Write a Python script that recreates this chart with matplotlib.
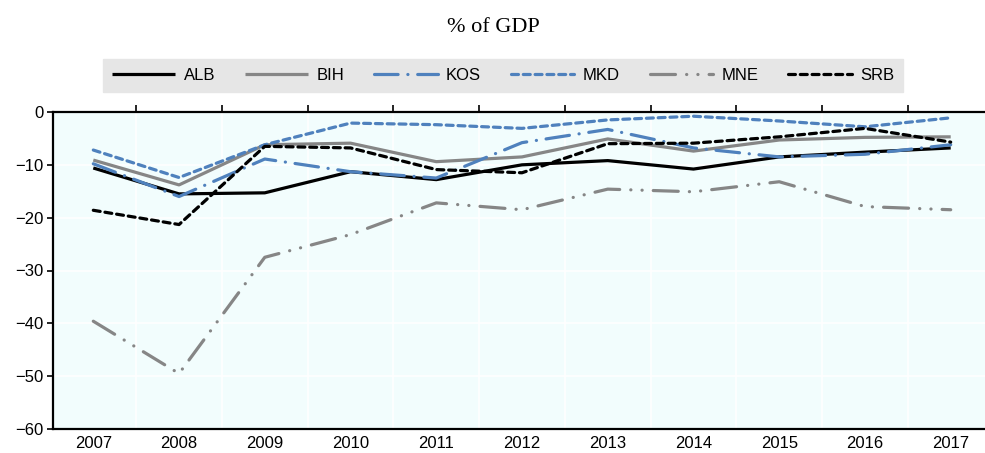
import matplotlib.pyplot as plt
import numpy as np

plt.rcParams['font.family'] = ['Liberation Sans', 'DejaVu Sans']
plt.rcParams['lines.scale_dashes'] = False

years = list(range(2007, 2018))
alb = [-10.6, -15.5, -15.3, -11.3, -12.8, -10.0, -9.2, -10.8, -8.5, -7.6, -6.8]
bih = [-9.1, -13.8, -6.2, -5.9, -9.4, -8.5, -5.1, -7.4, -5.3, -4.8, -4.7]
kos = [-9.8, -16.0, -8.9, -11.3, -12.5, -5.8, -3.3, -6.8, -8.5, -8.0, -6.2]
mkd = [-7.2, -12.4, -6.2, -2.1, -2.4, -3.1, -1.5, -0.8, -1.7, -2.8, -1.1]
mne = [-39.6, -49.5, -27.5, -23.2, -17.2, -18.5, -14.6, -15.1, -13.2, -17.9, -18.5]
srb = [-18.6, -21.3, -6.5, -6.8, -10.9, -11.5, -6.0, -5.9, -4.7, -3.1, -5.7]

blue = '#4F81BD'
grey = '#868686'

fig = plt.figure(figsize=(9.85, 4.53), dpi=100)
ax = fig.add_axes([53 / 985, 24 / 453, 932 / 985, 317 / 453])
ax.set_facecolor('#F2FDFD')

lw = 2.3
kw = dict(lw=lw, dash_capstyle='round', solid_capstyle='butt')
ax.plot(years, alb, color='black', ls='-', label='ALB', **kw)
ax.plot(years, bih, color=grey, ls='-', label='BIH', **kw)
ax.plot(years, kos, color=blue, ls=(0, (17, 7, 0.1, 7)), label='KOS', **kw)
ax.plot(years, mkd, color=blue, ls=(0, (5, 3.5)), label='MKD', **kw)
ax.plot(years, mne, color=grey, ls=(0, (18, 8, 0.1, 8, 0.1, 8)), label='MNE', **kw)
ax.plot(years, srb, color='black', ls=(0, (5, 3.5)), label='SRB', **kw)

ax.set_xlim(2006.53, 2017.4)
ax.set_ylim(-60, 0)
ax.set_xticks(years)
ax.set_xticks(np.arange(2007.5, 2017, 1), minor=True)
ax.set_yticks(range(-60, 1, 10))

ax.tick_params(axis='x', which='major', length=0, labelsize=12, pad=5)
ax.tick_params(axis='x', which='minor', top=True, bottom=False, direction='out',
               length=5, width=1.2)
ax.tick_params(axis='y', which='major', direction='out', length=4, width=1.2,
               labelsize=12, pad=3)

ax.grid(axis='x', which='minor', color='white', lw=1.2)
ax.grid(axis='y', which='major', color='white', lw=1.2)
ax.set_axisbelow(True)

for s in ['top', 'bottom', 'left']:
    ax.spines[s].set_linewidth(1.6)
ax.spines['right'].set_visible(False)

leg = fig.legend(loc='center', bbox_to_anchor=(503 / 985, 1 - 75.5 / 453), ncol=6,
                 frameon=True, fontsize=12, handlelength=3.8, columnspacing=1.8,
                 handletextpad=0.5, borderpad=0.55, borderaxespad=0,
                 fancybox=False)
leg.get_frame().set_facecolor('#E6E6E6')
leg.get_frame().set_edgecolor('#E6E6E6')
leg.get_frame().set_alpha(1)

fig.text(493 / 985, 1 - 28 / 453, '% of GDP', ha='center', va='center',
         family=['Liberation Serif', 'DejaVu Serif'], fontsize=16)

fig.savefig('out.png', dpi=100)
